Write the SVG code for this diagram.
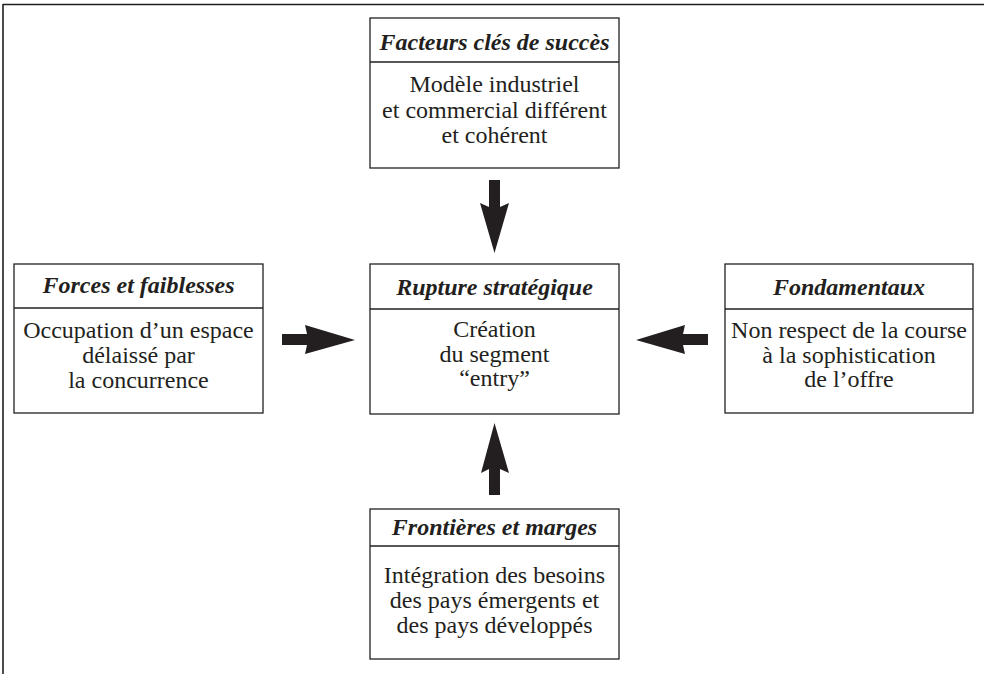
<svg xmlns="http://www.w3.org/2000/svg" width="984" height="674" viewBox="0 0 984 674">
<style>
.box{fill:#fff;stroke:#231f20;stroke-width:1.3}
.div{stroke:#231f20;stroke-width:1.3}
.h{font-family:"Liberation Serif","Times New Roman",serif;font-size:24px;font-weight:bold;font-style:italic;fill:#231f20;text-anchor:middle}
.t{font-family:"Liberation Serif","Times New Roman",serif;font-size:24px;fill:#231f20;text-anchor:middle}
.arr{fill:#231f20}
</style>
<rect width="984" height="674" fill="#fff"/>
<g id="frame">
<line x1="3" y1="4.5" x2="984" y2="4.5" stroke="#231f20" stroke-width="1.6"/>
<line x1="3" y1="4" x2="3" y2="674" stroke="#231f20" stroke-width="1.6"/>
</g>
<g id="facteurs">
<rect class="box" x="370" y="18" width="249" height="150"/>
<line class="div" x1="370" y1="62" x2="619" y2="62"/>
<text class="h" x="494.5" y="50">Facteurs clés de succès</text>
<text class="t" x="494.5" y="92">Modèle industriel</text>
<text class="t" x="494.5" y="118">et commercial différent</text>
<text class="t" x="494.5" y="143">et cohérent</text>
</g>
<g id="forces">
<rect class="box" x="14" y="264" width="249" height="149"/>
<line class="div" x1="14" y1="308" x2="263" y2="308"/>
<text class="h" x="138.5" y="293">Forces et faiblesses</text>
<text class="t" x="138.5" y="338">Occupation d’un espace</text>
<text class="t" x="138.5" y="363">délaissé par</text>
<text class="t" x="138.5" y="388">la concurrence</text>
</g>
<g id="rupture">
<rect class="box" x="370" y="264" width="249" height="150"/>
<line class="div" x1="370" y1="309" x2="619" y2="309"/>
<text class="h" x="494.5" y="295">Rupture stratégique</text>
<text class="t" x="494.5" y="337">Création</text>
<text class="t" x="494.5" y="362">du segment</text>
<text class="t" x="494.5" y="386">“entry”</text>
</g>
<g id="fondamentaux">
<rect class="box" x="725" y="264" width="248" height="149"/>
<line class="div" x1="725" y1="309" x2="973" y2="309"/>
<text class="h" x="849" y="295">Fondamentaux</text>
<text class="t" x="849" y="338">Non respect de la course</text>
<text class="t" x="849" y="363">à la sophistication</text>
<text class="t" x="849" y="387">de l’offre</text>
</g>
<g id="frontieres">
<rect class="box" x="370" y="509" width="249" height="150"/>
<line class="div" x1="370" y1="546" x2="619" y2="546"/>
<text class="h" x="494.5" y="535">Frontières et marges</text>
<text class="t" x="494.5" y="583">Intégration des besoins</text>
<text class="t" x="494.5" y="608">des pays émergents et</text>
<text class="t" x="494.5" y="633">des pays développés</text>
</g>
<g id="connectors">
<polygon class="arr" points="489,180 500,180 500,207 509,203 494.5,253 480,203 489,207"/>
<polygon class="arr" points="282,334 307,334 305,325 355,340 305,354 307,345 282,345"/>
<polygon class="arr" points="708,334 683,334 685,325 636,340 685,354 683,345 708,345"/>
<polygon class="arr" points="489,495 500,495 500,469 509,473 494.5,423 481,473 489,469"/>
</g>
</svg>
